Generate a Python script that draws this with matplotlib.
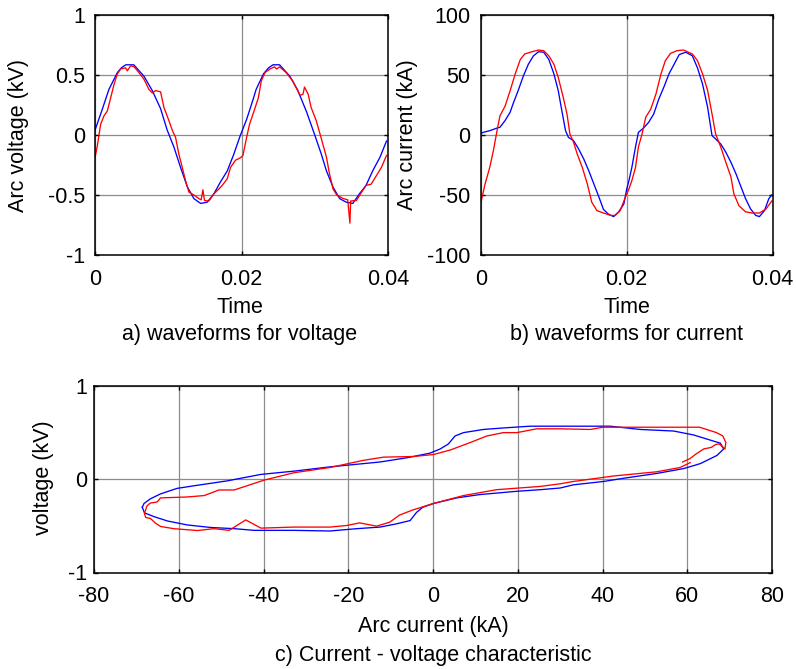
import numpy as np
import matplotlib
matplotlib.use("Agg")
import matplotlib.pyplot as plt

plt.rcParams['font.family'] = ['Liberation Sans', 'DejaVu Sans']
plt.rcParams['axes.unicode_minus'] = False

# ---------------- data ----------------
# a) arc voltage waveforms: (time s, kV)
volt_blue = [(0.0, 0.04), (0.00086, 0.19), (0.0019, 0.38), (0.00305, 0.52), (0.0036, 0.56),
             (0.0042, 0.585), (0.0053, 0.585), (0.00668, 0.49), (0.00782, 0.37), (0.00895, 0.22),
             (0.00986, 0.04), (0.01077, -0.10), (0.01168, -0.27), (0.01259, -0.43), (0.0135, -0.53),
             (0.01441, -0.57), (0.01532, -0.56), (0.01623, -0.49), (0.01714, -0.39), (0.01805, -0.30),
             (0.01895, -0.16), (0.0198, -0.01), (0.0207, 0.13), (0.0216, 0.30), (0.0220, 0.38),
             (0.0230, 0.51), (0.0237, 0.56), (0.0243, 0.585), (0.0252, 0.585), (0.0266, 0.49),
             (0.0277, 0.37), (0.0289, 0.19), (0.0300, 0.0), (0.0309, -0.16), (0.0316, -0.30),
             (0.0325, -0.435), (0.0334, -0.53), (0.0343, -0.56), (0.0352, -0.57), (0.0361, -0.49),
             (0.0370, -0.42), (0.0379, -0.30), (0.0389, -0.186), (0.0398, -0.05)]
volt_red = [(0.0, -0.19), (0.00032, -0.09), (0.00077, 0.09), (0.00123, 0.16), (0.00168, 0.20),
            (0.00214, 0.31), (0.00259, 0.42), (0.00305, 0.51), (0.0035, 0.55), (0.00418, 0.56),
            (0.00441, 0.535), (0.00486, 0.576), (0.00532, 0.57), (0.006, 0.52), (0.00668, 0.465),
            (0.00736, 0.38), (0.00782, 0.35), (0.00827, 0.37), (0.00895, 0.36), (0.00941, 0.23),
            (0.01009, 0.12), (0.01055, 0.04), (0.011, -0.02), (0.01145, -0.16), (0.01191, -0.27),
            (0.01236, -0.38), (0.01282, -0.476), (0.0135, -0.50), (0.01418, -0.53), (0.0145, -0.54),
            (0.01473, -0.457), (0.01495, -0.546), (0.01555, -0.55), (0.01623, -0.49), (0.01691, -0.45),
            (0.01736, -0.42), (0.01805, -0.365), (0.0185, -0.27), (0.01918, -0.21), (0.01986, -0.19),
            (0.0202, -0.17), (0.0207, -0.02), (0.0211, 0.09), (0.0218, 0.216), (0.0223, 0.31),
            (0.0227, 0.45), (0.0232, 0.52), (0.0239, 0.55), (0.0245, 0.568), (0.0248, 0.55),
            (0.0252, 0.568), (0.0261, 0.52), (0.0270, 0.45), (0.0280, 0.33), (0.0284, 0.34),
            (0.0286, 0.40), (0.0291, 0.34), (0.0295, 0.23), (0.0302, 0.12), (0.0309, -0.03),
            (0.0316, -0.186), (0.0320, -0.32), (0.0325, -0.45), (0.0330, -0.50), (0.0339, -0.53),
            (0.0345, -0.54), (0.0348, -0.735), (0.0349, -0.55), (0.0357, -0.545), (0.0364, -0.476),
            (0.0370, -0.42), (0.0377, -0.41), (0.0384, -0.34), (0.0391, -0.27), (0.0398, -0.17)]

# b) arc current waveforms: (time s, kA)
curr_blue = [(0.0, 1.4), (0.0003, 2.2), (0.0012, 3.6), (0.0022, 5.8), (0.0026, 6.4), (0.0033, 12),
             (0.0040, 19), (0.0044, 26), (0.0051, 37), (0.0058, 49), (0.0065, 59), (0.0072, 66),
             (0.0079, 69.4), (0.0086, 69), (0.0093, 63), (0.0100, 51), (0.0106, 37), (0.0111, 20),
             (0.0116, 3.6), (0.0120, -2), (0.0127, -4.7), (0.0134, -11.7), (0.0141, -20), (0.0148, -30),
             (0.0155, -41), (0.0162, -52), (0.0168, -62), (0.0175, -66), (0.0182, -68), (0.0189, -64),
             (0.0196, -57.5), (0.0200, -45), (0.0203, -38), (0.0207, -27), (0.0212, -10), (0.0216, 2.2),
             (0.0223, 5.8), (0.0230, 10.5), (0.0237, 17.5), (0.0244, 30), (0.0251, 40), (0.0258, 51),
             (0.0265, 59), (0.0272, 67), (0.0281, 69), (0.0290, 66), (0.0297, 56), (0.0304, 42.5),
             (0.0311, 23), (0.0317, -0.5), (0.0322, -3.3), (0.0329, -7.5), (0.0336, -14.4),
             (0.0343, -22.8), (0.0350, -32.5), (0.0357, -43.6), (0.0363, -53), (0.0370, -61.7),
             (0.0377, -67), (0.0382, -68), (0.0389, -63), (0.0395, -53), (0.0399, -50)]
curr_red = [(0.0, -56), (0.00055, -41), (0.0012, -27), (0.0017, -13), (0.0022, 3.6), (0.0026, 16),
            (0.0033, 24), (0.0040, 37), (0.0047, 51), (0.0054, 63), (0.0060, 67.5), (0.0070, 69.4),
            (0.0079, 70.8), (0.0086, 70.3), (0.0093, 66), (0.0100, 59), (0.0106, 48), (0.0113, 31),
            (0.0118, 17.5), (0.0122, 0.8), (0.0127, -6), (0.0132, -15.8), (0.0139, -27), (0.0146, -41),
            (0.0152, -56), (0.0159, -63), (0.0168, -65), (0.0178, -67), (0.0184, -67), (0.0191, -63),
            (0.0198, -52), (0.0203, -45), (0.0207, -38), (0.0212, -27), (0.0216, -10), (0.0221, 0.8),
            (0.0226, 14.7), (0.0233, 21.7), (0.0240, 34), (0.0247, 51), (0.0253, 62), (0.0260, 68),
            (0.0269, 70.3), (0.0278, 70.8), (0.0290, 67.5), (0.0297, 62), (0.0304, 51), (0.0311, 37),
            (0.0317, 17.5), (0.0322, 0.8), (0.0329, -10), (0.0336, -22.8), (0.0343, -35), (0.0347, -49),
            (0.0354, -59), (0.0363, -64), (0.0372, -65), (0.0382, -65), (0.0391, -61.7), (0.0399, -55)]

# c) current - voltage characteristic: (kA, kV)
iv_blue = [(-68.6, -0.30), (-68.2, -0.26), (-66.7, -0.21), (-64.3, -0.157), (-60.4, -0.098),
           (-56.4, -0.07), (-48.5, -0.017), (-40.6, 0.052), (-32.8, 0.087), (-24.3, 0.133),
           (-20.4, 0.15), (-12.5, 0.185), (-6.2, 0.23), (-0.7, 0.28), (1.7, 0.325), (3.6, 0.377),
           (5.2, 0.464), (7.2, 0.50), (11.9, 0.534), (16.6, 0.55), (22.9, 0.569), (30, 0.569),
           (41.8, 0.569), (48.9, 0.534), (56.8, 0.517), (61.5, 0.475), (64.7, 0.43), (67.8, 0.387),
           (68.6, 0.325), (67.0, 0.255), (63.1, 0.168), (59.2, 0.115), (52.9, 0.063), (44.9, 0.01),
           (40.2, -0.024), (33.1, -0.06), (30.0, -0.094), (25.3, -0.112), (19.8, -0.129),
           (11.1, -0.164), (5.6, -0.20), (0.1, -0.26), (-2.4, -0.30), (-3.9, -0.356), (-5.4, -0.443),
           (-8.6, -0.478), (-12.5, -0.513), (-18.0, -0.53), (-24.3, -0.555), (-32.8, -0.548),
           (-42.2, -0.548), (-46.9, -0.53), (-52.5, -0.517), (-58.0, -0.49), (-62.7, -0.447),
           (-65.9, -0.40), (-68.1, -0.36), (-68.6, -0.30)]
iv_red = [(60.7, 0.178), (58.3, 0.126), (52.8, 0.08), (42.6, 0.035), (33.1, -0.024), (30.0, -0.049),
          (25.3, -0.077), (15.0, -0.112), (7.2, -0.175), (0.1, -0.26), (-4.8, -0.33), (-7.9, -0.384),
          (-10.2, -0.46), (-13.3, -0.503), (-17.3, -0.468), (-20.4, -0.496), (-24.3, -0.513),
          (-32.8, -0.513), (-40.6, -0.524), (-44.2, -0.436), (-48.1, -0.548), (-51.7, -0.53),
          (-55.6, -0.55), (-61.2, -0.53), (-64.3, -0.506), (-65.5, -0.47), (-66.7, -0.42),
          (-67.8, -0.41), (-68.1, -0.366), (-67.5, -0.286), (-66.7, -0.255), (-65.1, -0.244),
          (-64.3, -0.20), (-58.0, -0.19), (-54.0, -0.175), (-50.5, -0.115), (-46.9, -0.115),
          (-39.9, -0.01), (-32.8, 0.07), (-24.3, 0.126), (-16.5, 0.202), (-11.7, 0.237),
          (-4.6, 0.244), (0.1, 0.265), (4.1, 0.314), (8.8, 0.394), (12.7, 0.464), (16.6, 0.50),
          (19.8, 0.50), (24.5, 0.541), (30, 0.541), (37.1, 0.534), (40.2, 0.558), (54.3, 0.558),
          (62.9, 0.558), (66.9, 0.50), (68.4, 0.464), (69.1, 0.394), (68.9, 0.325), (67.5, 0.38),
          (66.6, 0.37), (65.7, 0.342), (63.9, 0.325), (62.1, 0.272), (60.6, 0.22), (58.9, 0.185)]

# ticks / labels
time_ticks = [0, 0.02, 0.04]
time_ticklabels = ['0', '0.02', '0.04']
volt_ticks = [-1, -0.5, 0, 0.5, 1]
volt_ticklabels = ['-1', '-0.5', '0', '0.5', '1']
curr_ticks = [-100, -50, 0, 50, 100]
iv_xticks = [-80, -60, -40, -20, 0, 20, 40, 60, 80]
iv_yticks = [-1, 0, 1]

# ---------------- figure ----------------
W, H = 796, 669
fig = plt.figure(figsize=(W / 100, H / 100), dpi=100)
FS = 15.5


def fx(px):
    return px / W


def fy(py):
    return 1 - py / H


ax1 = fig.add_axes([fx(95), fy(255), (388 - 95) / W, 240 / H])
ax2 = fig.add_axes([fx(481), fy(255), (772.5 - 481) / W, 240 / H])
ax3 = fig.add_axes([fx(94), fy(572.5), (772 - 94) / W, 186.5 / H])


def style(ax, xpad, ypad):
    ax.set_axisbelow(True)
    ax.grid(True, color='0.55', linewidth=0.9)
    for s in ax.spines.values():
        s.set_linewidth(1.1)
        s.set_color('black')
    ax.tick_params(direction='in', top=True, right=True, length=3, width=1,
                   labelsize=FS, colors='black')
    ax.tick_params(axis='x', pad=xpad)
    ax.tick_params(axis='y', pad=ypad)


blue = (0, 0, 1)
red = (1, 0, 0)
LW = 0.95

# a)
t, v = zip(*volt_blue)
ax1.plot(t, v, color=blue, lw=LW)
t, v = zip(*volt_red)
ax1.plot(t, v, color=red, lw=LW)
ax1.set_xlim(0, 0.04)
ax1.set_ylim(-1, 1)
ax1.set_xticks(time_ticks, time_ticklabels)
ax1.set_yticks(volt_ticks, volt_ticklabels)
style(ax1, 10, 7.2)
ax1.set_xlabel('Time', fontsize=FS, va='baseline')
ax1.xaxis.set_label_coords(fx(240), fy(313), transform=fig.transFigure)
ax1.set_ylabel('Arc voltage (kV)', fontsize=FS, va='center')
ax1.yaxis.set_label_coords(fx(19), fy(135), transform=fig.transFigure)

# b)
t, i = zip(*curr_blue)
ax2.plot(t, i, color=blue, lw=LW)
t, i = zip(*curr_red)
ax2.plot(t, i, color=red, lw=LW)
ax2.set_xlim(0, 0.04)
ax2.set_ylim(-100, 100)
ax2.set_xticks(time_ticks, time_ticklabels)
ax2.set_yticks(curr_ticks)
style(ax2, 10, 7.5)
ax2.set_xlabel('Time', fontsize=FS, va='baseline')
ax2.xaxis.set_label_coords(fx(627), fy(313), transform=fig.transFigure)
ax2.set_ylabel('Arc current (kA)', fontsize=FS, va='center')
ax2.yaxis.set_label_coords(fx(408), fy(135), transform=fig.transFigure)

# c)
x, y = zip(*iv_blue)
ax3.plot(x, y, color=blue, lw=LW)
x, y = zip(*iv_red)
ax3.plot(x, y, color=red, lw=LW)
ax3.set_xlim(-80, 80)
ax3.set_ylim(-1, 1)
ax3.set_xticks(iv_xticks)
ax3.set_yticks(iv_yticks)
style(ax3, 9.5, 5)
ax3.set_xlabel('Arc current (kA)', fontsize=FS, va='baseline')
ax3.xaxis.set_label_coords(fx(433), fy(632), transform=fig.transFigure)
ax3.set_ylabel('voltage (kV)', fontsize=FS, va='center')
ax3.yaxis.set_label_coords(fx(44), fy(478), transform=fig.transFigure)

# captions
fig.text(fx(240), fy(340), 'a) waveforms for voltage', fontsize=FS, ha='center', va='baseline')
fig.text(fx(627), fy(340), 'b) waveforms for current', fontsize=FS, ha='center', va='baseline')
fig.text(fx(433), fy(661), 'c) Current - voltage characteristic', fontsize=FS, ha='center', va='baseline')

fig.savefig('out.png', dpi=100)
